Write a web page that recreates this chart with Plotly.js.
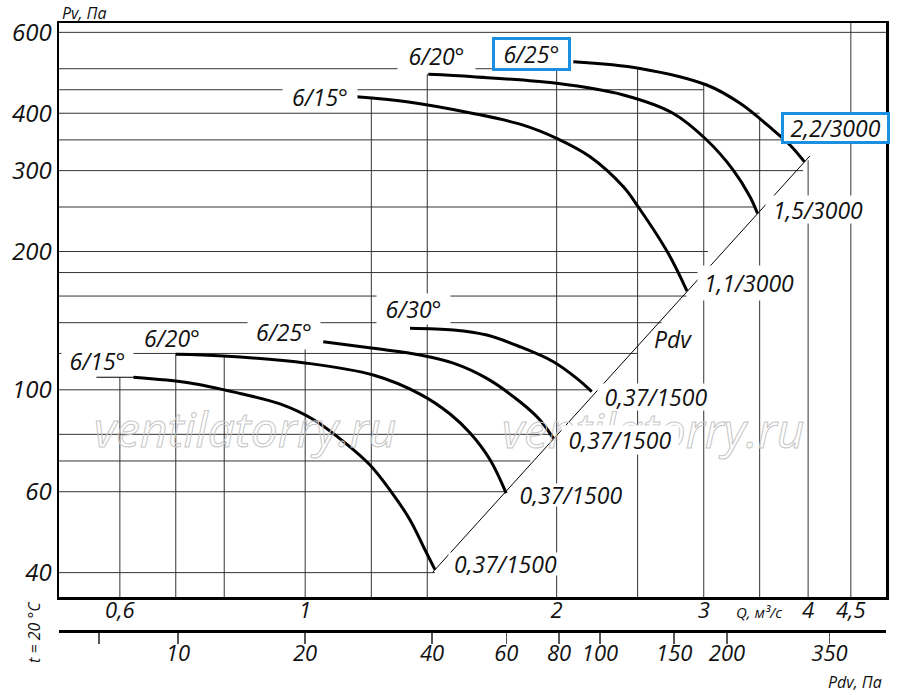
<!DOCTYPE html>
<html><head><meta charset="utf-8">
<script src="https://cdn.plot.ly/plotly-3.0.1.min.js"></script>
<style>html,body{margin:0;padding:0;background:#fff;} #chart{width:900px;height:695px;}</style>
</head><body><div id="chart"></div>
<script>
// ---------- data (Q in m3/s, P in Pa) ----------
// upper group (3000 rpm)
const qA = [1.152, 1.323, 1.589, 1.824, 2.0, 2.193, 2.404, 2.505, 2.721, 2.865];   // 6/15°  1,1/3000
const pA = [434.5, 423.8, 399.6, 377, 352.8, 321.7, 276.7, 250, 198, 164];
const qB = [1.404, 1.589, 2.0, 2.404, 2.759, 3.025, 3.254, 3.408, 3.48];             // 6/20°  1,5/3000
const pB = [486.1, 480.3, 464.7, 438.3, 399.6, 349.8, 300.9, 263.3, 242];
const qC = [2.094, 2.517, 3.025, 3.316, 3.634, 3.805, 3.96];                         // 6/25°  2,2/3000
const pC = [517.7, 500.8, 460.8, 420.4, 367.6, 341.1, 313.5];
// lower group (1500 rpm)
const qD = [0.6227, 0.7278, 0.8355, 0.9329, 1.0226, 1.121, 1.1957, 1.2634, 1.3351, 1.385, 1.430]; // 6/15°
const pD = [106.5, 103.5, 98.2, 93.2, 86.2, 76.2, 68.6, 60.5, 52.1, 45.6, 40.6];
const qDLead = [0.5625, 0.6227];
const pDLead = [106.5, 106.5];
const qE = [0.70, 0.798, 1.004, 1.2065, 1.3723, 1.4909, 1.5755, 1.6647, 1.740];      // 6/20°
const pE = [119.5, 118.5, 114.3, 107.7, 97.9, 88.6, 80.5, 70.4, 59.6];
const qF = [1.051, 1.2065, 1.3723, 1.5043, 1.6497, 1.8076, 1.9101, 1.982];           // 6/25°
const pF = [127.3, 123.1, 119.1, 114.3, 105.9, 94.2, 86.0, 78.4];
const qG = [1.335, 1.5043, 1.6497, 1.8076, 1.982, 2.1141, 2.2032];                   // 6/30°
const pG = [136.2, 135.0, 131.6, 124.1, 115.1, 105.9, 99.1];
// Pdv line end points
const qPdv = [1.42, 4.02];
const pPdv = [40, 323];
// labels
const upperNames = ['6/15°', '6/20°', '6/25°'];
const upperMotors = ['1,1/3000', '1,5/3000', '2,2/3000'];
const lowerNames = ['6/15°', '6/20°', '6/25°', '6/30°'];
const lowerMotors = ['0,37/1500', '0,37/1500', '0,37/1500', '0,37/1500'];
// ticks
const qTicks = [0.6, 1, 2, 3, 4, 4.5];
const qTickText = ['0,6', '1', '2', '3', '4', '4,5'];
const pTicks = [40, 60, 100, 200, 300, 400, 600];
const pTickText = ['40', '60', '100', '200', '300', '400', '600'];
const pdvTicks = [6.5, 10, 20, 40, 60, 80, 100, 150, 200, 350];
const pdvTickText = ['', '10', '20', '40', '60', '80', '100', '150', '200', '350'];
// partial grid lines
const hGridP    = [600, 500, 450, 400, 350, 300, 250, 200, 180, 160, 140, 120, 100, 80, 70, 60, 40];
const hGridQEnd = [5.2, 1.9, 3.0, 3.5, 3.75, 3.945, 3.455, 3.035, 2.98, 2.86, 2.67, 2.5, 2.2, 1.98, 1.86, 1.735, 1.43];
const vGridQ    = [0.6, 0.7, 0.8, 1.0, 1.2, 1.4, 2.0, 2.5, 3.0, 3.5, 4.0, 4.5];
const vGridPTop = [106.5, 119.5, 118.8, 122.5, 431, 487, 495, 501, 461, 393, 316, 700];

// ---------- layout constants ----------
const Q_RANGE = [-0.2947, 0.6953];
const P_RANGE = [1.549, 2.7985];
const PDV_RANGE = [0.718, 2.678];
const L = 59, T = 23, W = 827, H = 608;
const FRAME_BOTTOM = 597;
const qLeft = Math.pow(10, Q_RANGE[0]) * 0.9;
const pBottom = Math.pow(10, P_RANGE[0]) * 0.9;
function px(x) { return (x - L) / W; }
function py(y) { return (T + H - y) / H; }

const hx = [], hy = [];
hGridP.forEach((p, i) => { hx.push(qLeft, hGridQEnd[i], null); hy.push(p, p, null); });
const vx = [], vy = [];
vGridQ.forEach((q, i) => { vx.push(q, q, null); vy.push(pBottom, vGridPTop[i], null); });

const gridStyle = {color: '#333', width: 1};
const curveStyle = {color: '#000', width: 3, shape: 'spline', smoothing: 1};
function curve(q, p) {
  return {x: q, y: p, type: 'scatter', mode: 'lines', line: curveStyle, hoverinfo: 'skip', showlegend: false};
}
function thin(q, p, style) {
  return {x: q, y: p, type: 'scatter', mode: 'lines', line: style || {color: '#000', width: 1}, hoverinfo: 'skip', showlegend: false};
}
const traces = [
  thin(hx, hy, gridStyle),
  thin(vx, vy, gridStyle),
  thin(qPdv, pPdv),
  thin(qDLead, pDLead),
  curve(qA, pA), curve(qB, pB), curve(qC, pC),
  curve(qD, pD), curve(qE, pE), curve(qF, pF), curve(qG, pG),
  {x: pdvTicks, y: pdvTicks.map(() => null), xaxis: 'x2', yaxis: 'y', type: 'scatter', mode: 'markers',
   marker: {opacity: 0}, hoverinfo: 'skip', showlegend: false}
];

function lab(text, cx, cy, opt) {
  opt = opt || {};
  const a = {xref: 'paper', yref: 'paper', x: px(cx), y: py(cy), xanchor: opt.xanchor || 'center', yanchor: 'middle',
    text: text, showarrow: false, align: 'center', valign: 'middle', borderpad: 0,
    font: {family: '"Open Sans", sans-serif', size: opt.size || 23, style: 'italic', color: '#111'}};
  if (opt.w) a.width = opt.w;
  if (opt.h) a.height = opt.h;
  if (opt.bg) a.bgcolor = '#fff';
  if (opt.border) { a.bordercolor = '#1b8fe0'; a.borderwidth = 3; }
  if (opt.angle) a.textangle = opt.angle;
  return a;
}

const annotations = [
  // watermarks
  lab('ventilatorry.ru', 245, 428, {size: 48}),
  lab('ventilatorry.ru', 653, 430, {size: 48}),
  // upper group
  lab(upperNames[0], 320, 97, {w: 74, h: 26, bg: true}),
  lab(upperNames[1], 436.5, 56, {w: 77, h: 30, bg: true}),
  lab(upperNames[2], 531.6, 53.7, {w: 72.7, h: 28, bg: true, border: true}),
  lab(upperMotors[0], 749, 282.5, {w: 102, h: 34, bg: true}),
  lab(upperMotors[1], 818, 209.5, {w: 104, h: 27, bg: true}),
  lab(upperMotors[2], 835.3, 127.5, {w: 103.3, h: 25.6, bg: true, border: true}),
  lab('Pdv', 672.5, 339),
  // lower group
  lab(lowerNames[0], 97.5, 361, {w: 71, h: 28, bg: true}),
  lab(lowerNames[1], 171.7, 337.5),
  lab(lowerNames[2], 284, 332, {w: 72, h: 28, bg: true}),
  lab(lowerNames[3], 413.5, 309, {w: 73, h: 30, bg: true}),
  lab(lowerMotors[0], 656, 397, {w: 116, h: 26, bg: true}),
  lab(lowerMotors[1], 620, 440, {w: 116, h: 28, bg: true}),
  lab(lowerMotors[2], 571, 495, {w: 114, h: 22, bg: true}),
  lab(lowerMotors[3], 505.5, 564, {w: 113, h: 22, bg: true}),
  // axis texts
  lab('Pv, Па', 61, 13, {size: 16, xanchor: 'left'}),
  lab('t = 20 °C', 34, 632, {size: 16, angle: -90}),
  lab('Q, м³/с', 759, 612, {size: 15}),
  lab('Pdv, Па', 855, 682, {size: 16})
];

const tickFont = {family: '"Open Sans", sans-serif', style: 'italic', color: '#111'};
const layout = {
  width: 900, height: 695,
  margin: {l: L, r: 900 - L - W, t: T, b: 695 - T - H, pad: 0},
  paper_bgcolor: '#fff', plot_bgcolor: '#fff',
  showlegend: false,
  font: {family: '"Open Sans", sans-serif', color: '#111'},
  xaxis: {type: 'log', range: Q_RANGE, anchor: 'y', showgrid: false, zeroline: false,
    showline: true, mirror: true, linecolor: '#000', linewidth: 2.5, ticks: '',
    tickmode: 'array', tickvals: qTicks, ticktext: qTickText, ticklabelstandoff: -8,
    tickfont: Object.assign({size: 22}, tickFont), fixedrange: true},
  xaxis2: {type: 'log', range: PDV_RANGE, overlaying: 'x', anchor: 'free', position: 0, side: 'bottom',
    showgrid: false, zeroline: false, showline: true, linecolor: '#000', linewidth: 2.5,
    ticks: 'outside', ticklen: 11, tickwidth: 1.5, tickcolor: '#555', ticklabelstandoff: -9,
    tickmode: 'array', tickvals: pdvTicks, ticktext: pdvTickText,
    tickfont: Object.assign({size: 22}, tickFont), fixedrange: true},
  yaxis: {type: 'log', range: P_RANGE, domain: [(T + H - FRAME_BOTTOM) / H, 1], showgrid: false, zeroline: false,
    showline: true, mirror: true, linecolor: '#000', linewidth: 2.5, ticks: '',
    tickmode: 'array', tickvals: pTicks, ticktext: pTickText,
    tickfont: Object.assign({size: 24}, tickFont), fixedrange: true},
  annotations: annotations
};

Plotly.newPlot('chart', traces, layout, {displayModeBar: false, staticPlot: true}).then(gd => {
  gd.querySelectorAll('.annotation-text').forEach(t => {
    if (t.textContent.indexOf('ventilatorry') >= 0) {
      t.style.fill = 'none';
      t.style.stroke = '#c6c6c6';
      t.style.strokeWidth = '1px';
    }
  });
});
</script>
</body></html>
